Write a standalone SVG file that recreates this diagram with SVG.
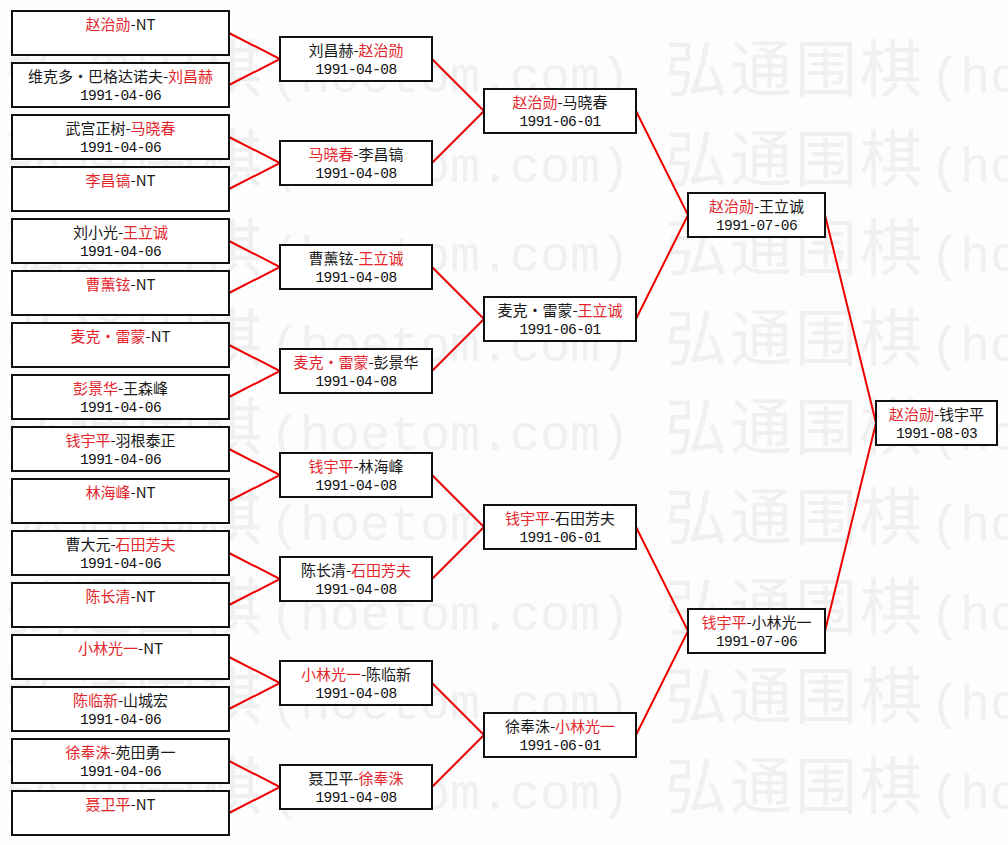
<svg xmlns="http://www.w3.org/2000/svg" width="1008" height="845" viewBox="0 0 1008 845">
<style>
.bx{fill:#fff;stroke:#111;stroke-width:2}
.n{font-family:"Noto Sans CJK SC","Noto Sans CJK JP",sans-serif;font-size:15px;fill:#1a1a1a;text-anchor:middle}
.d{font-family:"Liberation Mono","DejaVu Sans Mono",monospace;font-size:14.5px;letter-spacing:-0.6px;fill:#111;text-anchor:middle}
.r{fill:#e4262c}
.c{fill:none;stroke:#f00000;stroke-width:2}
.wc{font-family:"Noto Sans CJK SC",sans-serif;font-size:62px;letter-spacing:3px}
.wl{font-family:"Liberation Mono",monospace;font-size:50px}
</style>
<defs>
<text id="wm" x="0" y="0" fill="#f0f0f0"><tspan class="wc">弘通围棋</tspan><tspan class="wl" dx="5">(hoetom.com)</tspan></text>
</defs>
<rect x="0" y="0" width="1008" height="845" fill="#fdfdfd"/>
<g id="watermark">
<use href="#wm" x="5" y="92"/><use href="#wm" x="665" y="92"/>
<use href="#wm" x="5" y="181.6"/><use href="#wm" x="665" y="181.6"/>
<use href="#wm" x="5" y="271.2"/><use href="#wm" x="665" y="271.2"/>
<use href="#wm" x="5" y="360.8"/><use href="#wm" x="665" y="360.8"/>
<use href="#wm" x="5" y="450.4"/><use href="#wm" x="665" y="450.4"/>
<use href="#wm" x="5" y="540"/><use href="#wm" x="665" y="540"/>
<use href="#wm" x="5" y="629.6"/><use href="#wm" x="665" y="629.6"/>
<use href="#wm" x="5" y="719.2"/><use href="#wm" x="665" y="719.2"/>
<use href="#wm" x="5" y="808.8"/><use href="#wm" x="665" y="808.8"/>
</g>
<g id="connectors">
<path class="c" d="M229,33 L280,59 L229,85"/>
<path class="c" d="M229,137 L280,163 L229,189"/>
<path class="c" d="M229,241 L280,267 L229,293"/>
<path class="c" d="M229,345 L280,371 L229,397"/>
<path class="c" d="M229,449 L280,475 L229,501"/>
<path class="c" d="M229,553 L280,579 L229,605"/>
<path class="c" d="M229,657 L280,683 L229,709"/>
<path class="c" d="M229,761 L280,787 L229,813"/>
<path class="c" d="M432,59 L484,111 L432,163"/>
<path class="c" d="M432,267 L484,319 L432,371"/>
<path class="c" d="M432,475 L484,527 L432,579"/>
<path class="c" d="M432,683 L484,735 L432,787"/>
<path class="c" d="M636,111 L688,215 L636,319"/>
<path class="c" d="M636,527 L688,631 L636,735"/>
<path class="c" d="M825,215 L876,423 L825,631"/>
</g>
<g id="r1-1"><rect class="bx" x="12" y="11" width="217" height="44"/><text class="n" x="120.5" y="30"><tspan class="r">赵治勋</tspan>-NT</text></g>
<g id="r1-2"><rect class="bx" x="12" y="63" width="217" height="44"/><text class="n" x="120.5" y="82">维克多·巴格达诺夫-<tspan class="r">刘昌赫</tspan></text><text class="d" x="120.5" y="100">1991-04-06</text></g>
<g id="r1-3"><rect class="bx" x="12" y="115" width="217" height="44"/><text class="n" x="120.5" y="134">武宫正树-<tspan class="r">马晓春</tspan></text><text class="d" x="120.5" y="152">1991-04-06</text></g>
<g id="r1-4"><rect class="bx" x="12" y="167" width="217" height="44"/><text class="n" x="120.5" y="186"><tspan class="r">李昌镐</tspan>-NT</text></g>
<g id="r1-5"><rect class="bx" x="12" y="219" width="217" height="44"/><text class="n" x="120.5" y="238">刘小光-<tspan class="r">王立诚</tspan></text><text class="d" x="120.5" y="256">1991-04-06</text></g>
<g id="r1-6"><rect class="bx" x="12" y="271" width="217" height="44"/><text class="n" x="120.5" y="290"><tspan class="r">曹薰铉</tspan>-NT</text></g>
<g id="r1-7"><rect class="bx" x="12" y="323" width="217" height="44"/><text class="n" x="120.5" y="342"><tspan class="r">麦克·雷蒙</tspan>-NT</text></g>
<g id="r1-8"><rect class="bx" x="12" y="375" width="217" height="44"/><text class="n" x="120.5" y="394"><tspan class="r">彭景华</tspan>-王森峰</text><text class="d" x="120.5" y="412">1991-04-06</text></g>
<g id="r1-9"><rect class="bx" x="12" y="427" width="217" height="44"/><text class="n" x="120.5" y="446"><tspan class="r">钱宇平</tspan>-羽根泰正</text><text class="d" x="120.5" y="464">1991-04-06</text></g>
<g id="r1-10"><rect class="bx" x="12" y="479" width="217" height="44"/><text class="n" x="120.5" y="498"><tspan class="r">林海峰</tspan>-NT</text></g>
<g id="r1-11"><rect class="bx" x="12" y="531" width="217" height="44"/><text class="n" x="120.5" y="550">曹大元-<tspan class="r">石田芳夫</tspan></text><text class="d" x="120.5" y="568">1991-04-06</text></g>
<g id="r1-12"><rect class="bx" x="12" y="583" width="217" height="44"/><text class="n" x="120.5" y="602"><tspan class="r">陈长清</tspan>-NT</text></g>
<g id="r1-13"><rect class="bx" x="12" y="635" width="217" height="44"/><text class="n" x="120.5" y="654"><tspan class="r">小林光一</tspan>-NT</text></g>
<g id="r1-14"><rect class="bx" x="12" y="687" width="217" height="44"/><text class="n" x="120.5" y="706"><tspan class="r">陈临新</tspan>-山城宏</text><text class="d" x="120.5" y="724">1991-04-06</text></g>
<g id="r1-15"><rect class="bx" x="12" y="739" width="217" height="44"/><text class="n" x="120.5" y="758"><tspan class="r">徐奉洙</tspan>-苑田勇一</text><text class="d" x="120.5" y="776">1991-04-06</text></g>
<g id="r1-16"><rect class="bx" x="12" y="791" width="217" height="44"/><text class="n" x="120.5" y="810"><tspan class="r">聂卫平</tspan>-NT</text></g>
<g id="r2-1"><rect class="bx" x="280" y="37" width="152" height="44"/><text class="n" x="356" y="56">刘昌赫-<tspan class="r">赵治勋</tspan></text><text class="d" x="356" y="74">1991-04-08</text></g>
<g id="r2-2"><rect class="bx" x="280" y="141" width="152" height="44"/><text class="n" x="356" y="160"><tspan class="r">马晓春</tspan>-李昌镐</text><text class="d" x="356" y="178">1991-04-08</text></g>
<g id="r2-3"><rect class="bx" x="280" y="245" width="152" height="44"/><text class="n" x="356" y="264">曹薰铉-<tspan class="r">王立诚</tspan></text><text class="d" x="356" y="282">1991-04-08</text></g>
<g id="r2-4"><rect class="bx" x="280" y="349" width="152" height="44"/><text class="n" x="356" y="368"><tspan class="r">麦克·雷蒙</tspan>-彭景华</text><text class="d" x="356" y="386">1991-04-08</text></g>
<g id="r2-5"><rect class="bx" x="280" y="453" width="152" height="44"/><text class="n" x="356" y="472"><tspan class="r">钱宇平</tspan>-林海峰</text><text class="d" x="356" y="490">1991-04-08</text></g>
<g id="r2-6"><rect class="bx" x="280" y="557" width="152" height="44"/><text class="n" x="356" y="576">陈长清-<tspan class="r">石田芳夫</tspan></text><text class="d" x="356" y="594">1991-04-08</text></g>
<g id="r2-7"><rect class="bx" x="280" y="661" width="152" height="44"/><text class="n" x="356" y="680"><tspan class="r">小林光一</tspan>-陈临新</text><text class="d" x="356" y="698">1991-04-08</text></g>
<g id="r2-8"><rect class="bx" x="280" y="765" width="152" height="44"/><text class="n" x="356" y="784">聂卫平-<tspan class="r">徐奉洙</tspan></text><text class="d" x="356" y="802">1991-04-08</text></g>
<g id="r3-1"><rect class="bx" x="484" y="89" width="152" height="44"/><text class="n" x="560" y="108"><tspan class="r">赵治勋</tspan>-马晓春</text><text class="d" x="560" y="126">1991-06-01</text></g>
<g id="r3-2"><rect class="bx" x="484" y="297" width="152" height="44"/><text class="n" x="560" y="316">麦克·雷蒙-<tspan class="r">王立诚</tspan></text><text class="d" x="560" y="334">1991-06-01</text></g>
<g id="r3-3"><rect class="bx" x="484" y="505" width="152" height="44"/><text class="n" x="560" y="524"><tspan class="r">钱宇平</tspan>-石田芳夫</text><text class="d" x="560" y="542">1991-06-01</text></g>
<g id="r3-4"><rect class="bx" x="484" y="713" width="152" height="44"/><text class="n" x="560" y="732">徐奉洙-<tspan class="r">小林光一</tspan></text><text class="d" x="560" y="750">1991-06-01</text></g>
<g id="r4-1"><rect class="bx" x="688" y="193" width="137" height="44"/><text class="n" x="756.5" y="212"><tspan class="r">赵治勋</tspan>-王立诚</text><text class="d" x="756.5" y="230">1991-07-06</text></g>
<g id="r4-2"><rect class="bx" x="688" y="609" width="137" height="44"/><text class="n" x="756.5" y="628"><tspan class="r">钱宇平</tspan>-小林光一</text><text class="d" x="756.5" y="646">1991-07-06</text></g>
<g id="final"><rect class="bx" x="876" y="401" width="121" height="44"/><text class="n" x="936.5" y="420"><tspan class="r">赵治勋</tspan>-钱宇平</text><text class="d" x="936.5" y="438">1991-08-03</text></g>
</svg>
